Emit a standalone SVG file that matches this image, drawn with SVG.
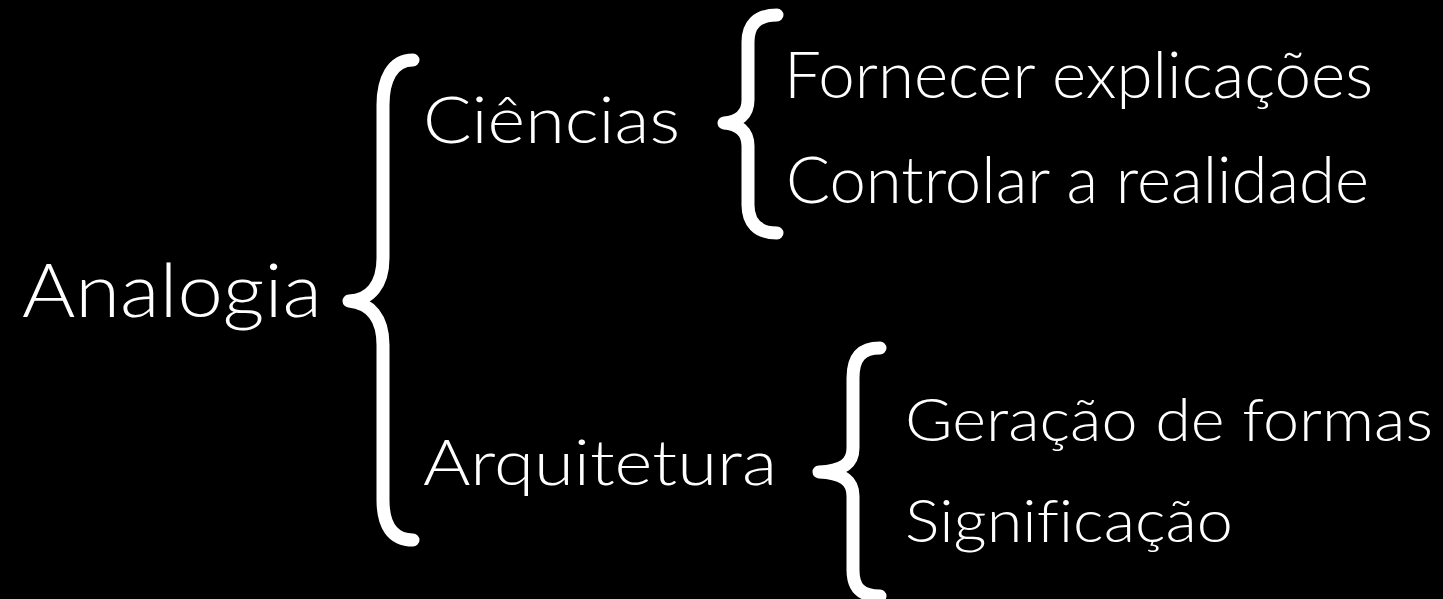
<svg xmlns="http://www.w3.org/2000/svg" width="1443" height="599" viewBox="0 0 1443 599">
<style>
.t{fill:#fff;font-family:"Lato","Open Sans","Liberation Sans",sans-serif;font-weight:300;font-variant-ligatures:none}
.b{fill:none;stroke:#fff;stroke-width:13;stroke-linecap:round;stroke-linejoin:round}
</style>
<rect width="1443" height="599" fill="#000"/>
<g id="connectors">
<path class="b" d="M413,60 C392,60 383,80 383,105 L383,258 C383,285 370,300 349,301 C370,303 383,318 383,345 L383,500 C383,525 392,540 413,540"/>
<path class="b" d="M777,15 C757,15 748,25 748,42 L748,100 C748,115 738,122 724,123 C738,124 748,131 748,146 L748,205 C748,222 757,233 777,233"/>
<path class="b" d="M880,348 C861,348 853,358 853,378 L853,448 C853,464 842,471 819,472 C842,473 853,480 853,496 L853,570 C853,588 861,596 880,596"/>
</g>
<g id="analogia"><text class="t" x="22" y="317" font-size="74" textLength="300" lengthAdjust="spacingAndGlyphs">Analogia</text></g>
<g id="ciencias"><text class="t" x="423" y="143" font-size="66" textLength="257" lengthAdjust="spacingAndGlyphs">Ciências</text></g>
<g id="fornecer"><text class="t" x="784" y="98" font-size="66" textLength="589" lengthAdjust="spacingAndGlyphs">Fornecer explicações</text></g>
<g id="controlar"><text class="t" x="786" y="203" font-size="66" textLength="583" lengthAdjust="spacingAndGlyphs">Controlar a realidade</text></g>
<g id="arquitetura"><text class="t" x="423" y="485" font-size="64" textLength="354" lengthAdjust="spacingAndGlyphs">Arquitetura</text></g>
<g id="geracao"><text class="t" x="905" y="441" font-size="60" textLength="528" lengthAdjust="spacingAndGlyphs">Geração de formas</text></g>
<g id="significacao"><text class="t" x="905" y="542" font-size="60" textLength="328" lengthAdjust="spacingAndGlyphs">Significação</text></g>
</svg>
